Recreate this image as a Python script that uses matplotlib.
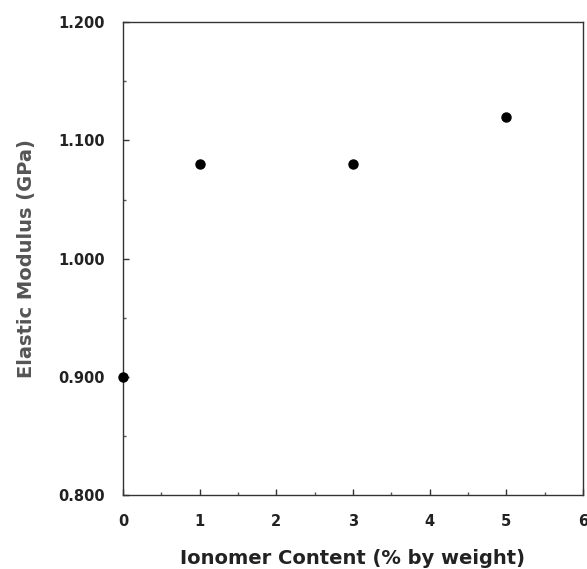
import matplotlib
matplotlib.use("Agg")
import matplotlib.pyplot as plt
from matplotlib.ticker import MultipleLocator, FormatStrFormatter

# ionomer content (% by weight) and elastic modulus (GPa)
content = [0, 1, 3, 5]
modulus = [0.900, 1.080, 1.080, 1.120]

fig = plt.figure(figsize=(5.87, 5.69), dpi=100)
ax = fig.add_axes([0.2095, 0.130, 0.7835, 0.831])

ax.plot(content, modulus, "o", color="black", markersize=6.5, clip_on=False, zorder=5)

ax.set_xlim(0, 6)
ax.set_ylim(0.800, 1.200)
ax.xaxis.set_major_locator(MultipleLocator(1))
ax.yaxis.set_major_locator(MultipleLocator(0.1))
ax.xaxis.set_minor_locator(MultipleLocator(0.5))
ax.yaxis.set_minor_locator(MultipleLocator(0.05))
ax.yaxis.set_major_formatter(FormatStrFormatter("%.3f"))

for s in ax.spines.values():
    s.set_color("#333333")
    s.set_linewidth(1.0)

ax.tick_params(which="major", direction="in", length=4, width=1, colors="#333333",
               labelcolor="#222222", labelsize=10.5, pad=13)
ax.tick_params(axis="x", which="major", pad=14)
ax.tick_params(which="minor", direction="in", length=2, width=1, colors="#555555")
for lbl in ax.get_xticklabels() + ax.get_yticklabels():
    lbl.set_fontweight("bold")

ax.set_xlabel("Ionomer Content (% by weight)", fontsize=14, fontweight="bold",
              color="#222222", labelpad=14)
ax.set_ylabel("Elastic Modulus (GPa)", fontsize=14, fontweight="bold",
              color="#555555", labelpad=16)

fig.savefig("out.png", dpi=100)
